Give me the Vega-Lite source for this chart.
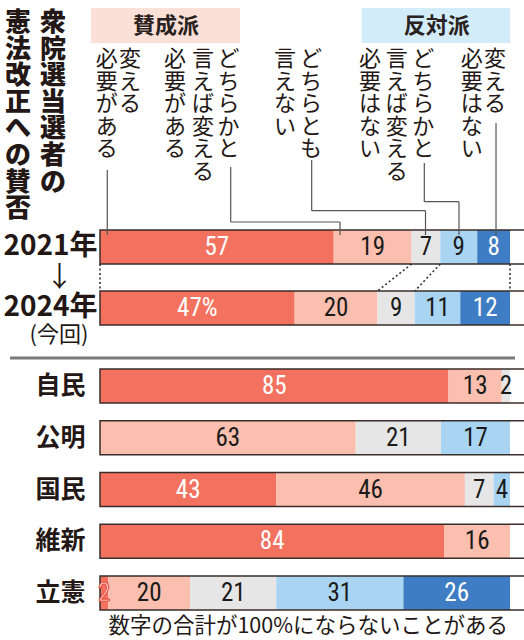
{
  "$schema": "https://vega.github.io/schema/vega-lite/v6.json",
  "width": 410,
  "height": 612,
  "autosize": {"type": "none"},
  "padding": {"left": 100, "top": 0, "right": 14, "bottom": 28},
  "background": "white",
  "config": {"view": {"stroke": null}, "font": "Noto Sans CJK JP"},
  "datasets": {
    "years": [
      {"row": "2021年", "cat": "変える必要がある", "k": 1, "value": 57, "label": "57"},
      {"row": "2021年", "cat": "どちらかと言えば変える必要がある", "k": 2, "value": 19, "label": "19"},
      {"row": "2021年", "cat": "どちらとも言えない", "k": 3, "value": 7, "label": "7"},
      {"row": "2021年", "cat": "どちらかと言えば変える必要はない", "k": 4, "value": 9, "label": "9"},
      {"row": "2021年", "cat": "変える必要はない", "k": 5, "value": 8, "label": "8"},
      {"row": "2024年", "cat": "変える必要がある", "k": 1, "value": 47, "label": "47%"},
      {"row": "2024年", "cat": "どちらかと言えば変える必要がある", "k": 2, "value": 20, "label": "20"},
      {"row": "2024年", "cat": "どちらとも言えない", "k": 3, "value": 9, "label": "9"},
      {"row": "2024年", "cat": "どちらかと言えば変える必要はない", "k": 4, "value": 11, "label": "11"},
      {"row": "2024年", "cat": "変える必要はない", "k": 5, "value": 12, "label": "12"}
    ],
    "parties": [
      {"row": "自民", "cat": "変える必要がある", "k": 1, "value": 85, "label": "85"},
      {"row": "自民", "cat": "どちらかと言えば変える必要がある", "k": 2, "value": 13, "label": "13"},
      {"row": "自民", "cat": "どちらとも言えない", "k": 3, "value": 2, "label": "2"},
      {"row": "公明", "cat": "どちらかと言えば変える必要がある", "k": 2, "value": 63, "label": "63"},
      {"row": "公明", "cat": "どちらとも言えない", "k": 3, "value": 21, "label": "21"},
      {"row": "公明", "cat": "どちらかと言えば変える必要はない", "k": 4, "value": 17, "label": "17"},
      {"row": "国民", "cat": "変える必要がある", "k": 1, "value": 43, "label": "43"},
      {"row": "国民", "cat": "どちらかと言えば変える必要がある", "k": 2, "value": 46, "label": "46"},
      {"row": "国民", "cat": "どちらとも言えない", "k": 3, "value": 7, "label": "7"},
      {"row": "国民", "cat": "どちらかと言えば変える必要はない", "k": 4, "value": 4, "label": "4"},
      {"row": "維新", "cat": "変える必要がある", "k": 1, "value": 84, "label": "84"},
      {"row": "維新", "cat": "どちらかと言えば変える必要がある", "k": 2, "value": 16, "label": "16"},
      {"row": "立憲", "cat": "変える必要がある", "k": 1, "value": 2, "label": "2"},
      {"row": "立憲", "cat": "どちらかと言えば変える必要がある", "k": 2, "value": 20, "label": "20"},
      {"row": "立憲", "cat": "どちらとも言えない", "k": 3, "value": 21, "label": "21"},
      {"row": "立憲", "cat": "どちらかと言えば変える必要はない", "k": 4, "value": 31, "label": "31"},
      {"row": "立憲", "cat": "変える必要はない", "k": 5, "value": 26, "label": "26"}
    ]
  },
  "resolve": {"scale": {"y": "independent"}},
  "layer": [
    {
      "data": {"name": "years"},
      "encoding": {
        "y": {"field": "row", "type": "nominal",
          "scale": {"domain": ["2021年", "2024年"], "range": [230, 325], "paddingInner": 0.443, "paddingOuter": 0},
          "axis": {"orient": "left", "title": null, "domain": false, "ticks": false, "grid": false, "labelFontSize": 28, "labelFontWeight": "bold", "labelColor": "#231815", "labelPadding": 3, "labelFont": "Noto Sans CJK JP"}}
      },
      "layer": [
        {"mark": {"type": "bar"},
         "encoding": {
           "x": {"field": "value", "type": "quantitative", "stack": "normalize", "scale": {"domain": [0, 1], "nice": false, "zero": false}, "axis": null},
           "color": {"field": "cat", "type": "nominal", "legend": null,
             "scale": {"domain": ["変える必要がある", "どちらかと言えば変える必要がある", "どちらとも言えない", "どちらかと言えば変える必要はない", "変える必要はない"],
                       "range": ["#F3725F", "#FABFAE", "#E6E6E6", "#A9D5F2", "#3E7DC4"]}},
           "order": {"field": "k", "type": "quantitative"}}},
        {"mark": {"type": "bar", "fillOpacity": 0, "stroke": "#3a2e2a", "strokeWidth": 1.5},
         "encoding": {"x": {"aggregate": "sum", "field": "value", "type": "quantitative", "stack": "normalize", "axis": null}}},
        {"mark": {"type": "text", "fontSize": 25, "font": "Liberation Sans Narrow, Roboto Condensed, DejaVu Sans Condensed, Arial Narrow, sans-serif", "baseline": "middle", "align": "center"},
         "encoding": {
           "x": {"field": "value", "type": "quantitative", "stack": "normalize", "bandPosition": 0.5, "axis": null},
           "detail": {"field": "cat"},
           "order": {"field": "k", "type": "quantitative"},
           "text": {"field": "label"},
           "color": {"condition": {"test": "datum.k == 1 || datum.k == 5", "value": "#ffffff"}, "value": "#1a1a1a"}}}
      ]
    },
    {
      "data": {"name": "parties"},
      "encoding": {
        "y": {"field": "row", "type": "nominal",
          "scale": {"domain": ["自民", "公明", "国民", "維新", "立憲"], "range": [369, 610], "paddingInner": 0.343, "paddingOuter": 0},
          "axis": {"orient": "left", "title": null, "domain": false, "ticks": false, "grid": false, "labelFontSize": 25, "labelFontWeight": "bold", "labelColor": "#231815", "labelPadding": 15, "labelFont": "Noto Sans CJK JP"}}
      },
      "layer": [
        {"mark": {"type": "bar"},
         "encoding": {
           "x": {"field": "value", "type": "quantitative", "stack": "normalize", "axis": null},
           "color": {"field": "cat", "type": "nominal", "legend": null},
           "order": {"field": "k", "type": "quantitative"}}},
        {"mark": {"type": "bar", "fillOpacity": 0, "stroke": "#3a2e2a", "strokeWidth": 1.5},
         "encoding": {"x": {"aggregate": "sum", "field": "value", "type": "quantitative", "stack": "normalize", "axis": null}}},
        {"mark": {"type": "text", "fontSize": 25, "font": "Liberation Sans Narrow, Roboto Condensed, DejaVu Sans Condensed, Arial Narrow, sans-serif", "baseline": "middle", "align": "center", "stroke": "#E8503E"},
         "encoding": {
           "x": {"field": "value", "type": "quantitative", "stack": "normalize", "bandPosition": 0.5, "axis": null},
           "detail": {"field": "cat"},
           "order": {"field": "k", "type": "quantitative"},
           "text": {"field": "label"},
           "strokeWidth": {"condition": {"test": "datum.row == '立憲' && datum.k == 1", "value": 1.2}, "value": 0},
           "color": {"condition": {"test": "datum.k == 1 || datum.k == 5", "value": "#ffffff"}, "value": "#1a1a1a"}}}
      ]
    },
    {
      "data": {"name": "years"},
      "transform": [
        {"stack": "value", "groupby": ["row"], "sort": [{"field": "k"}], "offset": "normalize", "as": ["s0", "s1"]},
        {"fold": ["s0", "s1"], "as": ["edge", "pos"]},
        {"filter": "(datum.k == 1 && datum.edge == 's0') || datum.k == 3 || (datum.k == 5 && datum.edge == 's1')"}
      ],
      "mark": {"type": "line", "strokeDash": [2, 2.5], "stroke": "#333333", "strokeWidth": 1.6},
      "encoding": {
        "x": {"field": "pos", "type": "quantitative", "axis": null},
        "y": {"field": "row", "type": "nominal", "scale": {"type": "point", "domain": ["2021年", "2024年"], "range": [264, 291], "padding": 0}, "axis": null},
        "detail": [{"field": "k"}, {"field": "edge"}]
      }
    },
    {
      "data": {"values": [{}]},
      "layer": [
        {"mark": {"type": "rect", "fill": "#FBE0D7"},
         "encoding": {"x": {"datum": -0.022, "type": "quantitative", "axis": null}, "x2": {"datum": 0.3415},
           "y": {"datum": 8, "type": "quantitative", "scale": {"domain": [0, 612], "reverse": true, "nice": false, "zero": false}, "axis": null}, "y2": {"datum": 43}}},
        {"mark": {"type": "rect", "fill": "#D3ECFA"},
         "encoding": {"x": {"datum": 0.6383, "type": "quantitative", "axis": null}, "x2": {"datum": 1.0},
           "y": {"datum": 8, "type": "quantitative", "scale": {"domain": [0, 612], "reverse": true, "nice": false, "zero": false}, "axis": null}, "y2": {"datum": 43}}},
        {"mark": {"type": "text", "text": "賛成派", "fontSize": 22, "fontWeight": "bold", "align": "center", "baseline": "middle", "color": "#2a2220"},
         "encoding": {"x": {"datum": 0.161, "type": "quantitative", "axis": null},
           "y": {"datum": 26, "type": "quantitative", "scale": {"domain": [0, 612], "reverse": true, "nice": false, "zero": false}, "axis": null}}},
        {"mark": {"type": "text", "text": "反対派", "fontSize": 22, "fontWeight": "bold", "align": "center", "baseline": "middle", "color": "#2a2220"},
         "encoding": {"x": {"datum": 0.8212, "type": "quantitative", "axis": null},
           "y": {"datum": 26, "type": "quantitative", "scale": {"domain": [0, 612], "reverse": true, "nice": false, "zero": false}, "axis": null}}},
        {"mark": {"type": "text", "text": ["憲", "法", "改", "正", "へ", "の", "賛", "否"], "fontSize": 26, "fontWeight": 900, "lineHeight": 26.6, "align": "center", "baseline": "top", "color": "#231815"},
         "encoding": {"x": {"datum": -0.2, "type": "quantitative", "axis": null},
           "y": {"datum": 10, "type": "quantitative", "scale": {"domain": [0, 612], "reverse": true, "nice": false, "zero": false}, "axis": null}}},
        {"mark": {"type": "text", "text": ["衆", "院", "選", "当", "選", "者", "の"], "fontSize": 26, "fontWeight": 900, "lineHeight": 26.6, "align": "center", "baseline": "top", "color": "#231815"},
         "encoding": {"x": {"datum": -0.1146, "type": "quantitative", "axis": null},
           "y": {"datum": 10, "type": "quantitative", "scale": {"domain": [0, 612], "reverse": true, "nice": false, "zero": false}, "axis": null}}},
        {"mark": {"type": "text", "text": ["必", "要", "が", "あ", "る"], "fontSize": 22, "lineHeight": 22.6, "align": "center", "baseline": "top", "color": "#231815"},
         "encoding": {"x": {"datum": 0.0163, "type": "quantitative", "axis": null},
           "y": {"datum": 49, "type": "quantitative", "scale": {"domain": [0, 612], "reverse": true, "nice": false, "zero": false}, "axis": null}}},
        {"mark": {"type": "text", "text": ["変", "え", "る"], "fontSize": 22, "lineHeight": 22.6, "align": "center", "baseline": "top", "color": "#231815"},
         "encoding": {"x": {"datum": 0.0732, "type": "quantitative", "axis": null},
           "y": {"datum": 49, "type": "quantitative", "scale": {"domain": [0, 612], "reverse": true, "nice": false, "zero": false}, "axis": null}}},
        {"mark": {"type": "text", "text": ["必", "要", "が", "あ", "る"], "fontSize": 22, "lineHeight": 22.6, "align": "center", "baseline": "top", "color": "#231815"},
         "encoding": {"x": {"datum": 0.1829, "type": "quantitative", "axis": null},
           "y": {"datum": 49, "type": "quantitative", "scale": {"domain": [0, 612], "reverse": true, "nice": false, "zero": false}, "axis": null}}},
        {"mark": {"type": "text", "text": ["言", "え", "ば", "変", "え", "る"], "fontSize": 22, "lineHeight": 22.6, "align": "center", "baseline": "top", "color": "#231815"},
         "encoding": {"x": {"datum": 0.2512, "type": "quantitative", "axis": null},
           "y": {"datum": 49, "type": "quantitative", "scale": {"domain": [0, 612], "reverse": true, "nice": false, "zero": false}, "axis": null}}},
        {"mark": {"type": "text", "text": ["ど", "ち", "ら", "か", "と"], "fontSize": 22, "lineHeight": 22.6, "align": "center", "baseline": "top", "color": "#231815"},
         "encoding": {"x": {"datum": 0.3134, "type": "quantitative", "axis": null},
           "y": {"datum": 49, "type": "quantitative", "scale": {"domain": [0, 612], "reverse": true, "nice": false, "zero": false}, "axis": null}}},
        {"mark": {"type": "text", "text": ["言", "え", "な", "い"], "fontSize": 22, "lineHeight": 22.6, "align": "center", "baseline": "top", "color": "#231815"},
         "encoding": {"x": {"datum": 0.4512, "type": "quantitative", "axis": null},
           "y": {"datum": 49, "type": "quantitative", "scale": {"domain": [0, 612], "reverse": true, "nice": false, "zero": false}, "axis": null}}},
        {"mark": {"type": "text", "text": ["ど", "ち", "ら", "と", "も"], "fontSize": 22, "lineHeight": 22.6, "align": "center", "baseline": "top", "color": "#231815"},
         "encoding": {"x": {"datum": 0.5146, "type": "quantitative", "axis": null},
           "y": {"datum": 49, "type": "quantitative", "scale": {"domain": [0, 612], "reverse": true, "nice": false, "zero": false}, "axis": null}}},
        {"mark": {"type": "text", "text": ["必", "要", "は", "な", "い"], "fontSize": 22, "lineHeight": 22.6, "align": "center", "baseline": "top", "color": "#231815"},
         "encoding": {"x": {"datum": 0.6585, "type": "quantitative", "axis": null},
           "y": {"datum": 49, "type": "quantitative", "scale": {"domain": [0, 612], "reverse": true, "nice": false, "zero": false}, "axis": null}}},
        {"mark": {"type": "text", "text": ["言", "え", "ば", "変", "え", "る"], "fontSize": 22, "lineHeight": 22.6, "align": "center", "baseline": "top", "color": "#231815"},
         "encoding": {"x": {"datum": 0.7237, "type": "quantitative", "axis": null},
           "y": {"datum": 49, "type": "quantitative", "scale": {"domain": [0, 612], "reverse": true, "nice": false, "zero": false}, "axis": null}}},
        {"mark": {"type": "text", "text": ["ど", "ち", "ら", "か", "と"], "fontSize": 22, "lineHeight": 22.6, "align": "center", "baseline": "top", "color": "#231815"},
         "encoding": {"x": {"datum": 0.7885, "type": "quantitative", "axis": null},
           "y": {"datum": 49, "type": "quantitative", "scale": {"domain": [0, 612], "reverse": true, "nice": false, "zero": false}, "axis": null}}},
        {"mark": {"type": "text", "text": ["必", "要", "は", "な", "い"], "fontSize": 22, "lineHeight": 22.6, "align": "center", "baseline": "top", "color": "#231815"},
         "encoding": {"x": {"datum": 0.9066, "type": "quantitative", "axis": null},
           "y": {"datum": 49, "type": "quantitative", "scale": {"domain": [0, 612], "reverse": true, "nice": false, "zero": false}, "axis": null}}},
        {"mark": {"type": "text", "text": ["変", "え", "る"], "fontSize": 22, "lineHeight": 22.6, "align": "center", "baseline": "top", "color": "#231815"},
         "encoding": {"x": {"datum": 0.9634, "type": "quantitative", "axis": null},
           "y": {"datum": 49, "type": "quantitative", "scale": {"domain": [0, 612], "reverse": true, "nice": false, "zero": false}, "axis": null}}},
        {"mark": {"type": "text", "text": "↓", "fontSize": 28, "align": "center", "baseline": "middle", "color": "#231815"},
         "encoding": {"x": {"datum": -0.0988, "type": "quantitative", "axis": null},
           "y": {"datum": 279, "type": "quantitative", "scale": {"domain": [0, 612], "reverse": true, "nice": false, "zero": false}, "axis": null}}},
        {"mark": {"type": "text", "text": "(今回)", "fontSize": 22, "align": "center", "baseline": "middle", "color": "#231815"},
         "encoding": {"x": {"datum": -0.1, "type": "quantitative", "axis": null},
           "y": {"datum": 335, "type": "quantitative", "scale": {"domain": [0, 612], "reverse": true, "nice": false, "zero": false}, "axis": null}}},
        {"mark": {"type": "text", "text": "数字の合計が100%にならないことがある", "fontSize": 21.5, "align": "right", "baseline": "middle", "color": "#231815"},
         "encoding": {"x": {"datum": 0.9951, "type": "quantitative", "axis": null},
           "y": {"datum": 627, "type": "quantitative", "scale": {"domain": [0, 612], "reverse": true, "nice": false, "zero": false}, "axis": null}}},
        {"mark": {"type": "rule", "stroke": "#7a7a7a", "strokeWidth": 3},
         "encoding": {"x": {"datum": -0.2195, "type": "quantitative", "axis": null}, "x2": {"datum": 1.0122},
           "y": {"datum": 358, "type": "quantitative", "scale": {"domain": [0, 612], "reverse": true, "nice": false, "zero": false}, "axis": null}}},
        {"mark": {"type": "rule", "stroke": "#555555", "strokeWidth": 1.2},
         "encoding": {"x": {"datum": 0.0178, "type": "quantitative", "axis": null},
           "y": {"datum": 170, "type": "quantitative", "scale": {"domain": [0, 612], "reverse": true, "nice": false, "zero": false}, "axis": null}, "y2": {"datum": 235}}},
        {"mark": {"type": "rule", "stroke": "#555555", "strokeWidth": 1.2},
         "encoding": {"x": {"datum": 0.3188, "type": "quantitative", "axis": null},
           "y": {"datum": 167, "type": "quantitative", "scale": {"domain": [0, 612], "reverse": true, "nice": false, "zero": false}, "axis": null}, "y2": {"datum": 222}}},
        {"mark": {"type": "rule", "stroke": "#555555", "strokeWidth": 1.2},
         "encoding": {"x": {"datum": 0.3188, "type": "quantitative", "axis": null}, "x2": {"datum": 0.5854},
           "y": {"datum": 222, "type": "quantitative", "scale": {"domain": [0, 612], "reverse": true, "nice": false, "zero": false}, "axis": null}}},
        {"mark": {"type": "rule", "stroke": "#555555", "strokeWidth": 1.2},
         "encoding": {"x": {"datum": 0.5854, "type": "quantitative", "axis": null},
           "y": {"datum": 222, "type": "quantitative", "scale": {"domain": [0, 612], "reverse": true, "nice": false, "zero": false}, "axis": null}, "y2": {"datum": 235}}},
        {"mark": {"type": "rule", "stroke": "#555555", "strokeWidth": 1.2},
         "encoding": {"x": {"datum": 0.5163, "type": "quantitative", "axis": null},
           "y": {"datum": 160, "type": "quantitative", "scale": {"domain": [0, 612], "reverse": true, "nice": false, "zero": false}, "axis": null}, "y2": {"datum": 210.7}}},
        {"mark": {"type": "rule", "stroke": "#555555", "strokeWidth": 1.2},
         "encoding": {"x": {"datum": 0.5163, "type": "quantitative", "axis": null}, "x2": {"datum": 0.7939},
           "y": {"datum": 210.7, "type": "quantitative", "scale": {"domain": [0, 612], "reverse": true, "nice": false, "zero": false}, "axis": null}}},
        {"mark": {"type": "rule", "stroke": "#555555", "strokeWidth": 1.2},
         "encoding": {"x": {"datum": 0.7939, "type": "quantitative", "axis": null},
           "y": {"datum": 210.7, "type": "quantitative", "scale": {"domain": [0, 612], "reverse": true, "nice": false, "zero": false}, "axis": null}, "y2": {"datum": 235}}},
        {"mark": {"type": "rule", "stroke": "#555555", "strokeWidth": 1.2},
         "encoding": {"x": {"datum": 0.791, "type": "quantitative", "axis": null},
           "y": {"datum": 163, "type": "quantitative", "scale": {"domain": [0, 612], "reverse": true, "nice": false, "zero": false}, "axis": null}, "y2": {"datum": 201.7}}},
        {"mark": {"type": "rule", "stroke": "#555555", "strokeWidth": 1.2},
         "encoding": {"x": {"datum": 0.791, "type": "quantitative", "axis": null}, "x2": {"datum": 0.8756},
           "y": {"datum": 201.7, "type": "quantitative", "scale": {"domain": [0, 612], "reverse": true, "nice": false, "zero": false}, "axis": null}}},
        {"mark": {"type": "rule", "stroke": "#555555", "strokeWidth": 1.2},
         "encoding": {"x": {"datum": 0.8756, "type": "quantitative", "axis": null},
           "y": {"datum": 201.7, "type": "quantitative", "scale": {"domain": [0, 612], "reverse": true, "nice": false, "zero": false}, "axis": null}, "y2": {"datum": 235}}},
        {"mark": {"type": "rule", "stroke": "#555555", "strokeWidth": 1.2},
         "encoding": {"x": {"datum": 0.9659, "type": "quantitative", "axis": null},
           "y": {"datum": 123, "type": "quantitative", "scale": {"domain": [0, 612], "reverse": true, "nice": false, "zero": false}, "axis": null}, "y2": {"datum": 235}}}
      ]
    }
  ]
}
